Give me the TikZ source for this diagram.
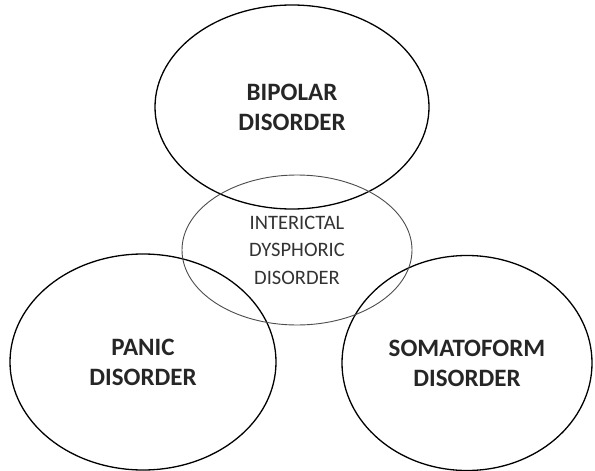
\documentclass[tikz,border=0pt]{standalone}
\usepackage{fontspec}
\setmainfont{Carlito}
\usetikzlibrary{shapes.geometric}

\begin{document}
\begin{tikzpicture}[x=1pt, y=-1pt]
% Styles for the ovals
\tikzstyle{big_oval} = [ellipse, draw=black, line width=1.3pt, inner sep=0pt, align=center, text=black!85, font=\bfseries\fontsize{25}{30}\selectfont]
\tikzstyle{mid_oval} = [ellipse, draw=black!70, line width=0.9pt, inner sep=0pt, align=center, text=black!80, font=\fontsize{20.5}{27.5}\selectfont]
\useasboundingbox (0,0) rectangle (595,471);
% Outer ovals
\node (bipolar) [big_oval, minimum width=274pt, minimum height=204pt] at (292,107) {BIPOLAR\\DISORDER};
\node (panic) [big_oval, minimum width=266pt, minimum height=216pt] at (143,362) {PANIC\\DISORDER};
\node (somato) [big_oval, minimum width=250pt, minimum height=215pt] at (467,363) {SOMATOFORM\\DISORDER};
% Middle oval
\node (interictal) [mid_oval, minimum width=230pt, minimum height=150pt] at (297,250) {INTERICTAL\\DYSPHORIC\\DISORDER};
\end{tikzpicture}
\end{document}
